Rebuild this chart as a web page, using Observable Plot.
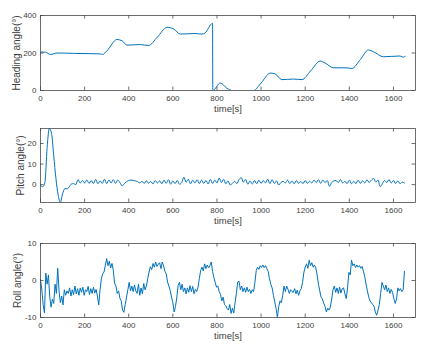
<!DOCTYPE html>
<html>
<head>
<meta charset="utf-8">
<script src="https://cdn.jsdelivr.net/npm/d3@7"></script>
<script src="https://cdn.jsdelivr.net/npm/@observablehq/plot@0.6"></script>
<style>
  html, body { margin: 0; padding: 0; background: #fff; }
  #chart svg { display: block; }
</style>
</head>
<body>
<div id="chart"></div>
<script>
// ---------- data ----------
const xTicks = [0, 200, 400, 600, 800, 1000, 1200, 1400, 1600];
const headingTicks = [0, 200, 400];
const pitchTicks = [0, 10, 20];
const rollTicks = [-10, 0, 10];

// Heading angle (deg) at irregular times (s)
const headingTime = [0, 23, 45, 75, 150, 272, 282, 300, 347, 370, 392, 453, 490, 530, 574, 604, 634, 700, 732, 745, 780, 781, 815, 845, 870, 966, 1000, 1042, 1064, 1094, 1147, 1185, 1225, 1268, 1290, 1328, 1389, 1411, 1450, 1487, 1509, 1555, 1630, 1645, 1653];
const headingValue = [205, 204, 192, 200, 198, 195, 192, 210, 272, 265, 242, 245, 240, 285, 337, 328, 301, 304, 301, 306, 358, 0, 40, 12, 0, 0, 40, 93, 88, 58, 61, 58, 105, 157, 147, 121, 121, 117, 165, 216, 207, 180, 184, 178, 182];

// Pitch angle (deg), sampled every 10 s from t = 0
const pitchStep = 10;
const pitchValue = [
  -0.3, -1.0, 1.0, 18, 27.3, 25, 14, 3, -5, -8.7,
  -4.5, -2.0, -2.0, -1.2, 0.3, 0.5, 0.0, 2.4, 0.8, 2.0,
  0.8, 2.3, 0.6, 2.0, 0.5, 2.5, 0.4, 1.8, 0.6, 2.6,
  0.5, 2.2, 0.8, 2.4, 0.6, 2.2, 1.0, -0.6, 0.5, 1.4,
  2.0, 2.2, 2.1, 1.8, 1.5, 0.8, 1.6, 0.6, 1.8, 0.7,
  1.5, 0.3, 2.0, 0.8, 1.8, 0.4, 2.2, 0.6, 2.4, 0.2,
  1.8, 0.5, 2.0, 0.2, 1.0, 3.6, 1.2, 2.6, 0.4, 2.2,
  0.8, 2.4, 0.5, 2.2, 0.6, 2.0, 0.3, 2.5, 0.6, 2.2,
  0.8, 3.2, 1.0, 2.6, 0.4, 1.8, -0.2, 0.6, 1.6, 0.5,
  2.4, 3.4, 1.2, 2.5, 0.2, 1.8, 0.3, 2.0, 0.4, 2.2,
  0.6, 2.0, 0.8, 2.6, 0.5, 2.4, 0.6, 1.8, -0.2, 1.0,
  1.6, 0.8, 2.2, 0.5, 1.8, 0.4, 2.0, 0.6, 1.5, 0.5,
  2.0, 0.6, 1.6, 0.8, 2.2, 1.0, 2.4, 0.6, 2.2, 1.0,
  2.0, -0.8, 1.0, 1.8, 2.0, 1.0, 2.4, 0.8, 1.6, 0.5,
  2.2, 0.4, 1.6, 0.5, 2.2, 0.6, 1.8, 0.8, 2.4, 1.0,
  2.2, 3.0, 1.2, 2.2, -1.0, 0.5, 2.0, 1.0, 2.5, 0.8,
  2.0, 0.5, 1.8, 0.4, 1.2, 0.8
];

// Roll angle (deg), sampled every 6 s from t = 0
const rollStep = 6;
const rollValue = [
  0.3, -2.5, -6.5, -8.8, 2.0, -1.0, 1.5, -4.5, -7.2, -5.0,
  -6.2, -1.0, -3.5, 3.3, -2.8, -6.0, -4.2, -6.6, -2.5, -4.0,
  -2.8, -3.5, -2.0, -4.2, -2.5, -3.8, -1.5, -3.6, -2.2, -4.0,
  -2.0, -3.2, -1.8, -4.0, -2.5, -3.0, -1.6, -3.8, -2.2, -3.5,
  -1.8, -3.4, -2.4, -4.2, -6.6, -2.5, 0.5, 1.8, 2.3, 4.1,
  5.9, 4.0, 5.2, 3.4, 4.6, 2.8, -0.8, -1.5, -3.5, -2.8,
  -4.8, -5.5, -8.0, -8.6, -6.5, -4.5, -2.5, -0.5, -2.8, -1.5,
  -3.0, -1.2, -2.8, -3.5, -1.0, -4.0, -2.0, -3.6, -0.8, -2.5,
  -1.5, 0.5, 2.3, 3.7, 2.9, 4.6, 3.6, 5.0, 3.8, 4.4,
  4.8, 3.2, 5.0, 4.0, 2.5, 1.8, -0.4, -1.5, -2.7, -4.5,
  -6.0, -8.5, -7.0, -4.5, -1.3, -0.5, -2.5, -1.0, -3.0, -2.0,
  -3.6, -2.0, -3.2, -1.4, -3.0, -1.6, -3.6, -2.4, -3.0, -1.8,
  0.5, 2.7, 3.6, 2.6, 4.5, 3.2, 4.2, 3.4, 4.0, 5.0,
  2.5, 0.8, -0.5, -1.8, -1.5, -3.0, -3.8, -5.5, -4.5, -6.5,
  -6.8, -7.6, -8.0, -6.5, -8.9, -7.5, -8.8, -6.0, -3.5, -0.4,
  -0.2, -2.5, -1.5, -3.0, -2.0, -3.2, -1.8, -3.0, -2.4, -3.5,
  -2.5, -3.0, -0.5, 2.7, 3.6, 3.0, 4.0, 3.5, 4.2, 3.5,
  4.0, 3.2, 2.5, 0.5, -1.0, -2.0, -4.0, -5.8, -7.6, -10.0,
  -7.0, -5.5, -6.0, -4.0, -1.5, -3.0, -1.5, -2.4, -3.5, -2.5,
  -3.0, -3.2, -2.2, -3.6, -2.6, -4.0, -2.8, -2.2, -0.5, 2.2,
  3.6, 4.5, 3.3, 5.5, 4.0, 4.8, 3.6, 4.2, 3.4, 1.5,
  -1.0, -2.8, -4.5, -5.0, -6.2, -7.0, -8.5, -7.5, -8.0, -7.2,
  -5.0, -2.5, -1.5, -3.2, -2.0, -3.5, -1.8, -3.4, -2.2, -2.0,
  -3.6, -4.9, -2.0, 2.2, 1.5, 5.5, 4.0, 4.5, 3.5, 4.2,
  3.6, 4.0, 3.3, 3.8, 2.5, 1.0, -1.0, -2.8, -4.5, -5.5,
  -6.0, -6.5, -7.0, -8.5, -9.4, -8.0, -6.5, -3.5, -0.5, -1.5,
  -2.5, -1.2, -3.0, -2.0, -3.5, -2.4, -3.2, -4.9, -6.2, -5.0,
  -2.0, -2.8, -2.2, -3.0, -2.5, 2.5
];

// ---------- build tables ----------
const headingData = headingTime.map((t, i) => ({t, v: headingValue[i]}));
const pitchData = pitchValue.map((v, i) => ({t: i * pitchStep, v}));
const rollData = rollValue.map((v, i) => ({t: i * rollStep, v}));

// ---------- styling ----------
const W = 424, ML = 40, MR = 9;
const FW = W - ML - MR;
const axisColor = "#4a4a4a";
const textColor = "#404040";
const lineColor = "#0072BD";
const tickLen = 3.5;
const FONT = "'Liberation Sans', Arial, Helvetica, sans-serif";

function panel({data, curve, yDomain, yTicks, ylabel, mt, mb, fh, ylabelDx}) {
  return Plot.plot({
    width: W,
    height: mt + fh + mb,
    marginLeft: ML,
    marginRight: MR,
    marginTop: mt,
    marginBottom: mb,
    style: {fontFamily: FONT, background: "#fff", overflow: "visible"},
    x: {domain: [0, 1700], label: null},
    y: {domain: yDomain, label: null},
    marks: [
      Plot.line(data, {x: "t", y: "v", stroke: lineColor, strokeWidth: 1, curve, clip: true}),
      Plot.frame({stroke: axisColor, strokeWidth: 0.8}),
      // inward ticks on all four sides
      Plot.tickX(xTicks, {x: d => d, insetTop: fh - tickLen, stroke: axisColor, strokeWidth: 0.8}),
      Plot.tickX(xTicks, {x: d => d, insetBottom: fh - tickLen, stroke: axisColor, strokeWidth: 0.8}),
      Plot.tickY(yTicks, {y: d => d, insetRight: FW - tickLen, stroke: axisColor, strokeWidth: 0.8}),
      Plot.tickY(yTicks, {y: d => d, insetLeft: FW - tickLen, stroke: axisColor, strokeWidth: 0.8}),
      Plot.axisX({ticks: xTicks, tickFormat: d => String(d), tickSize: 0, tickPadding: 5, fontSize: 8, fill: textColor, label: null}),
      Plot.axisY({ticks: yTicks, tickFormat: d => String(d), tickSize: 0, tickPadding: 4, fontSize: 8, fill: textColor, label: null}),
      Plot.text(["time[s]"], {frameAnchor: "bottom", textAnchor: "middle", dy: 21, fontSize: 9.5, fill: textColor}),
      Plot.text([ylabel], {frameAnchor: "left", textAnchor: "middle", rotate: -90, dx: ylabelDx, fontSize: 10, fill: textColor})
    ]
  });
}

const chart = document.getElementById("chart");
chart.append(panel({
  data: headingData, curve: "monotone-x",
  yDomain: [0, 400], yTicks: headingTicks, ylabel: "Heading angle(°)",
  mt: 15, fh: 75, mb: 28, ylabelDx: -24
}));
chart.append(panel({
  data: pitchData, curve: "monotone-x",
  yDomain: [-8.7, 27.3], yTicks: pitchTicks, ylabel: "Pitch angle(°)",
  mt: 10, fh: 74, mb: 30, ylabelDx: -20
}));
chart.append(panel({
  data: rollData, curve: "linear",
  yDomain: [-10, 10], yTicks: rollTicks, ylabel: "Roll angle(°)",
  mt: 11, fh: 74, mb: 34, ylabelDx: -23
}));
</script>
</body>
</html>
